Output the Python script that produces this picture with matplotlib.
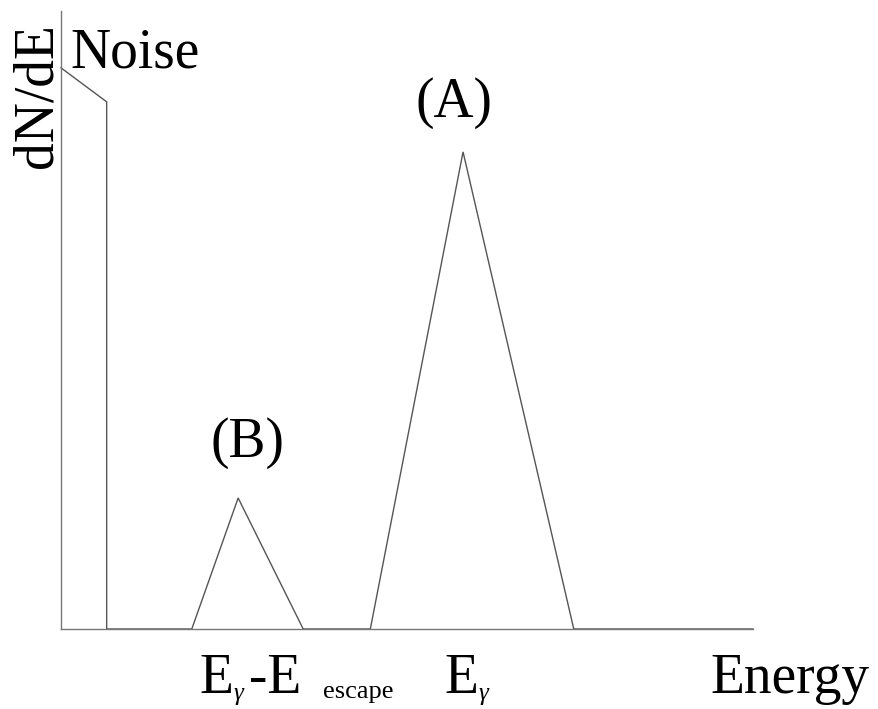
import matplotlib
matplotlib.use("Agg")
import matplotlib.pyplot as plt

# Schematic spectrum (arbitrary units, 0-100 on both axes)
energy = [0, 6.6, 6.6, 18.9, 25.6, 35.0, 44.7, 58.1, 74.1, 100]
dnde = [90.8, 85.3, 0, 0, 21.2, 0, 0, 77.2, 0, 0]

peak_labels = ["(A)", "(B)"]
peak_pos = [(58.1, 77.2), (25.6, 21.2)]
label_offsets = [(-6.4, 16.2), (6.5, 20.6)]

plt.rcParams['font.family'] = ['Liberation Serif', 'DejaVu Serif']

W, H = 879, 709
fig = plt.figure(figsize=(W / 100, H / 100), dpi=100)
ax = fig.add_axes([61 / W, (H - 629) / H, 692 / W, 618 / H])
ax.plot(energy, dnde, color='#555555', lw=1.0, solid_joinstyle='miter', clip_on=False)
ax.set_xlim(0, 100)
ax.set_ylim(0, 100)
ax.set_xticks([])
ax.set_yticks([])
for s in ['top', 'right']:
    ax.spines[s].set_visible(False)
for s in ['left', 'bottom']:
    ax.spines[s].set_color('#777777')
    ax.spines[s].set_linewidth(1.0)

fs = 40
for lab, (px, py), off in zip(peak_labels, peak_pos, label_offsets):
    ax.annotate(lab, (px, py), xytext=off, textcoords='offset points',
                ha='center', va='bottom', fontsize=fs)


def ftxt(x, y, s, **kw):
    fig.text(x / W, 1 - y / H, s, va='baseline', **kw)


ftxt(70, 67, "Noise", fontsize=fs, ha='left')
fig.text(12 / W, 1 - 96 / H, "dN/dE", fontsize=fs, rotation=90, ha='left', va='center')
ftxt(870, 693, "Energy", fontsize=fs, ha='right')
# E_gamma - E escape
ftxt(199, 693, "E", fontsize=fs, ha='left')
ftxt(234, 700, "γ", fontsize=18, style='italic', ha='left')
ftxt(249, 693, "-E", fontsize=fs, ha='left')
ftxt(323, 698, "escape", fontsize=19, ha='left')
# E_gamma
ftxt(444, 693, "E", fontsize=fs, ha='left')
ftxt(479, 700, "γ", fontsize=18, style='italic', ha='left')

fig.savefig("out.png", dpi=100, facecolor='white')
